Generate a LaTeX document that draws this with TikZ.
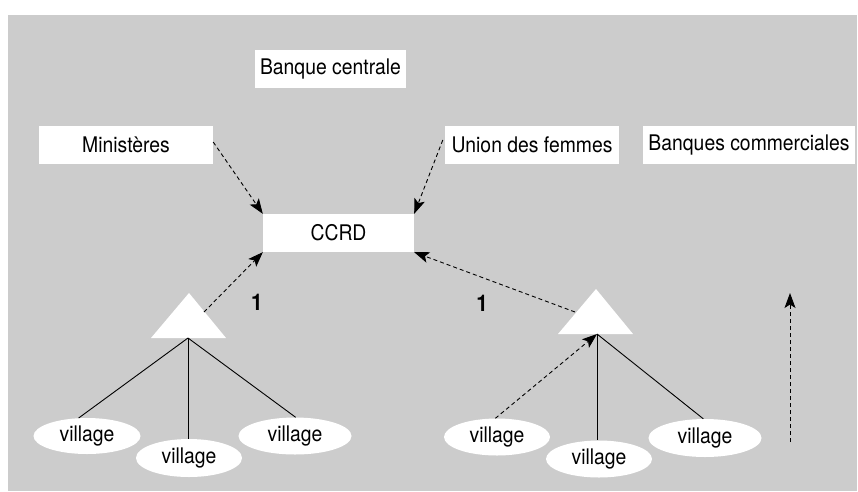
\documentclass[tikz,border=0pt]{standalone}
\usepackage{fontspec}
\setmainfont{TeX Gyre Heros}[FakeStretch=0.9]
\usetikzlibrary{arrows.meta,shapes.geometric}
\definecolor{bggray}{HTML}{CCCCCC}
\begin{document}
\begin{tikzpicture}[x=1pt,y=-1pt,
  txt/.style={font=\fontsize{21.5}{24}\selectfont},
  wbox/.style={txt, fill=white, inner sep=0pt, minimum height=38pt},
  vil/.style={txt, ellipse, fill=white, inner sep=0pt, minimum width=107pt, minimum height=37pt},
  tri/.style={fill=white},
  dasharr/.style={line width=0.9pt, dash pattern=on 4pt off 3pt, -{Stealth[length=15pt,width=11pt,inset=3.5pt]}},
  solidln/.style={line width=0.9pt},
  num/.style={font=\fontsize{23}{24}\selectfont\bfseries}
]
\useasboundingbox (0,0) rectangle (858,491);
\fill[bggray] (8,15) rectangle (857,491);

\node[wbox, minimum width=151pt] (bc) at (330.5,69) {Banque centrale};
\node[wbox, minimum width=174pt] (min) at (126,145) {Ministères};
\node[wbox, minimum width=174pt] (uni) at (532,145) {Union des femmes};
\node[wbox, minimum width=212pt] (bcom) at (749,145) {Banques commerciales};
\node[wbox, minimum width=151pt] (ccrd) at (338.5,233) {CCRD};

% triangles
\fill[tri] (151,338) -- (189,293) -- (226,338) -- cycle;
\fill[tri] (558,334) -- (596,289) -- (633,334) -- cycle;
\coordinate (lb) at (188,338);
\coordinate (rb) at (597,334);
\coordinate (ledge) at (204,312);
\coordinate (redge) at (575,312);

% villages
\node[vil, minimum width=107pt, minimum height=36pt] (v1) at (87,436) {village};
\node[vil, minimum width=106pt, minimum height=38pt] (v2) at (189,458) {village};
\node[vil, minimum width=113pt, minimum height=37pt] (v3) at (295,436) {village};
\node[vil, minimum width=106pt, minimum height=37pt] (v4) at (497,437) {village};
\node[vil, minimum width=106pt, minimum height=37pt] (v5) at (599,459) {village};
\node[vil, minimum width=113pt, minimum height=38pt] (v6) at (705,438) {village};

% labels
\node[num] (n1) at (257,302) {1};
\node[num] (n2) at (482,303) {1};

% connectors
\draw[dasharr] ([yshift=3pt]min.east) -- (ccrd.north west);
\draw[dasharr] ([yshift=5pt,xshift=-2pt]uni.west) -- (ccrd.north east);
\draw[dasharr] (ledge) -- (ccrd.south west);
\draw[dasharr] (redge) -- (ccrd.south east);

\draw[solidln] (lb) -- (v1.115);
\draw[solidln] (lb) -- (lb |- v2.north);
\draw[solidln] (lb) -- (v3.88);

\draw[dasharr] (v4.95) -- (rb);
\draw[solidln] (rb) -- (rb |- v5.north);
\draw[solidln] (rb) -- (v6.95);

\coordinate (a0) at (790,442);
\coordinate (a1) at (790,293);
\draw[dasharr] (a0) -- (a1);
\end{tikzpicture}
\end{document}
